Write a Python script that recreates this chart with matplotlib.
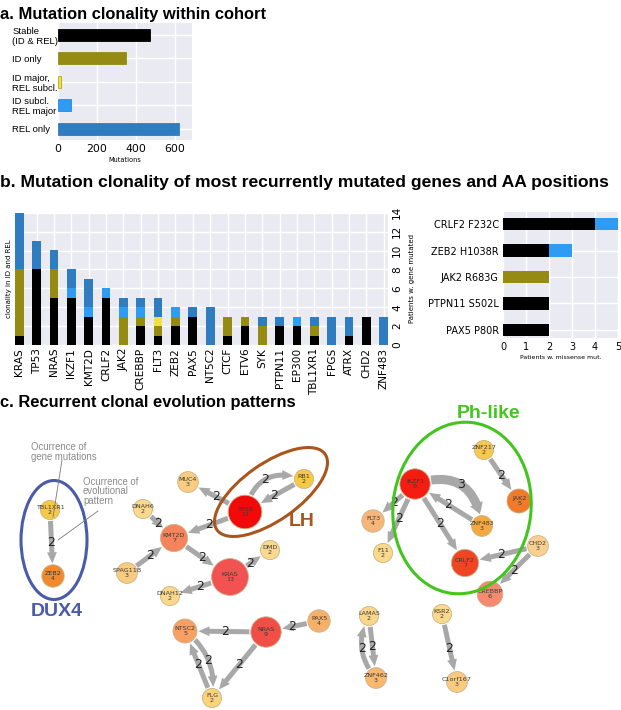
import numpy as np
import matplotlib
matplotlib.use("Agg")
import matplotlib.pyplot as plt
from matplotlib.patches import Ellipse, Circle, FancyArrowPatch

# ---------------- data ----------------
# panel a
a_categories = ["Stable\n(ID & REL)", "ID only", "ID major,\nREL subcl.", "ID subcl.\nREL major", "REL only"]
a_values = [472, 348, 18, 66, 622]

# panel b (left) stacked counts per gene
b_genes = ["KRAS", "TP53", "NRAS", "IKZF1", "KMT2D", "CRLF2", "JAK2", "CREBBP", "FLT3", "ZEB2",
           "PAX5", "NT5C2", "CTCF", "ETV6", "SYK", "PTPN11", "EP300", "TBL1XR1", "FPGS", "ATRX",
           "CHD2", "ZNF483"]
b_stable = [1, 8, 5, 5, 3, 5, 0, 2, 1, 2, 3, 0, 1, 2, 0, 2, 2, 1, 0, 1, 3, 0]
b_id_only = [7, 0, 3, 0, 0, 0, 3, 1, 1, 1, 0, 0, 2, 1, 2, 0, 0, 1, 0, 0, 0, 0]
b_idmaj_relsub = [0, 0, 0, 0, 0, 0, 0, 0, 1, 0, 0, 0, 0, 0, 0, 0, 0, 0, 0, 0, 0, 0]
b_idsub_relmaj = [0, 0, 0, 1, 1, 1, 1, 1, 0, 1, 0, 0, 0, 0, 0, 0, 1, 0, 0, 0, 0, 0]
b_rel_only = [6, 3, 2, 2, 3, 0, 1, 1, 2, 0, 1, 4, 0, 0, 1, 1, 0, 1, 3, 2, 0, 3]

# panel b (right) AA positions
aa_labels = ["CRLF2 F232C", "ZEB2 H1038R", "JAK2 R683G", "PTPN11 S502L", "PAX5 P80R"]
aa_stable = [4, 2, 0, 2, 2]
aa_id_only = [0, 0, 2, 0, 0]
aa_idsub_relmaj = [1, 1, 0, 0, 0]

# panel c network
node_names = ["TBL1XR1", "ZEB2", "DNAH6", "MUC4", "TP53", "RB1", "KMT2D", "KRAS", "DMD", "SPAG11B",
              "DNAH12", "NT5C2", "NRAS", "FLG", "PAX5", "LAMA5", "ZNF462", "KSR2", "C1orf167",
              "IKZF1", "FLT3", "F11", "ZNF217", "JAK2", "ZNF483", "CRLF2", "CHD2", "CREBBP"]
node_labels = ["TBL1XR1", "ZEB2", "DNAH6", "MUC4", "TP53", "RB1", "KMT2D", "KRAS", "DMD", "SPAG11B",
               "DNAH12", "NTSC2", "NRAS", "FLG", "PAX5", "LAMA5", "ZNF462", "KSR2", "C1orf167",
               "IKZF1", "FLT3", "F11", "ZNF217", "JAK2", "ZNF483", "CRLF2", "CHD2", "CREBBP"]
node_counts = [2, 4, 2, 3, 11, 2, 7, 13, 2, 3, 2, 5, 9, 2, 4, 2, 3, 2, 3, 9, 4, 2, 2, 5, 3, 7, 3, 6]
node_colors = ["#F6C843", "#F08A2E", "#FAD88C", "#F9CC80", "#F20A0A", "#F6C843", "#F5845C", "#F25252",
               "#FAD98E", "#F9CB80", "#FAD88A", "#F7A064", "#F24E48", "#F9D37A", "#F7B068", "#FAD68A",
               "#F7B870", "#FAD98A", "#F9CB80", "#F51C12", "#F7B57A", "#FAD98A", "#F6C850", "#F07A2A",
               "#F5A840", "#F04522", "#FAD090", "#F58A70"]
# layout of the graph (pixel space of the picture)
node_layout = {
    "TBL1XR1": (50, 510), "ZEB2": (53, 576), "DNAH6": (143, 509), "MUC4": (188, 482),
    "TP53": (245, 512), "RB1": (304, 479), "KMT2D": (174, 538), "KRAS": (230, 577),
    "DMD": (270, 550), "SPAG11B": (127, 573), "DNAH12": (170, 596), "NT5C2": (185, 631),
    "NRAS": (266, 632), "FLG": (212, 698), "PAX5": (319, 621), "LAMA5": (369, 616),
    "ZNF462": (376, 678), "KSR2": (442, 614), "C1orf167": (457, 682), "IKZF1": (415, 484),
    "FLT3": (373, 521), "F11": (383, 553), "ZNF217": (484, 450), "JAK2": (519, 501),
    "ZNF483": (482, 526), "CRLF2": (465, 563), "CHD2": (538, 546), "CREBBP": (490, 594),
}
edge_src = ["TBL1XR1", "DNAH6", "TP53", "TP53", "RB1", "TP53", "KMT2D", "SPAG11B", "KRAS", "KRAS",
            "NRAS", "PAX5", "NRAS", "NT5C2", "FLG", "LAMA5", "ZNF462", "KSR2", "IKZF1", "ZNF483",
            "IKZF1", "ZNF217", "IKZF1", "IKZF1", "CHD2", "CHD2"]
edge_dst = ["ZEB2", "KMT2D", "MUC4", "RB1", "TP53", "KMT2D", "KRAS", "KMT2D", "DMD", "DNAH12",
            "NT5C2", "NRAS", "FLG", "FLG", "NT5C2", "ZNF462", "LAMA5", "C1orf167", "ZNF483", "IKZF1",
            "CRLF2", "JAK2", "FLT3", "F11", "CRLF2", "CREBBP"]
edge_weight = [2, 2, 2, 2, 2, 2, 2, 2, 2, 2, 2, 2, 2, 2, 2, 2, 2, 2, 3, 2, 2, 2, 2, 2, 2, 2]
edge_curve = [0, 0, 0, -0.55, 0, 0, 0, 0, 0, 0, 0, 0, 0, -0.3, 0, 0, -0.35, 0, -0.6, 0, 0, 0, 0, 0, 0, 0]

# ---------------- style ----------------
BG = "#EAEAF2"
C_STABLE = "#000000"
C_IDONLY = "#958A12"
C_IDMAJ = "#F0E040"
C_IDSUB = "#2E9BF5"
C_REL = "#2F7DC0"
SANS = ["Liberation Sans", "DejaVu Sans"]

W, H = 621, 710
fig = plt.figure(figsize=(W / 100, H / 100), dpi=100)


def frac(x0, y0, x1, y1):
    return [x0 / W, 1 - y1 / H, (x1 - x0) / W, (y1 - y0) / H]


def style_ax(ax):
    ax.set_facecolor(BG)
    for s in ax.spines.values():
        s.set_visible(False)
    ax.grid(True, color="white", lw=1.0)
    ax.set_axisbelow(True)
    ax.tick_params(length=0)


# ---------------- network axes (panel c) ----------------
axn = fig.add_axes([0, 0, 1, 1])
axn.set_xlim(0, W)
axn.set_ylim(H, 0)
axn.axis("off")

radius = {n: 8 + 0.8 * c for n, c in zip(node_names, node_counts)}

for s, d, w, rad in zip(edge_src, edge_dst, edge_weight, edge_curve):
    p0 = np.array(node_layout[s], float)
    p1 = np.array(node_layout[d], float)
    tw = 3.6 if w == 2 else 6.5
    style = f"Simple,tail_width={tw},head_width={tw + 3.5},head_length=8"
    arr = FancyArrowPatch(p0, p1, arrowstyle=style, connectionstyle=f"arc3,rad={rad}",
                          shrinkA=radius[s] * 0.72 + 1, shrinkB=radius[d] * 0.72 + 1,
                          color="#A8A8A8", lw=0, zorder=1)
    axn.add_patch(arr)
    # label position at the middle of the (possibly curved) edge, in y-up space
    q0 = np.array([p0[0], H - p0[1]])
    q1 = np.array([p1[0], H - p1[1]])
    mid = (q0 + q1) / 2
    dx, dy = q1 - q0
    c = np.array([mid[0] + rad * dy, mid[1] - rad * dx])
    m = 0.25 * q0 + 0.5 * c + 0.25 * q1
    axn.text(m[0], H - m[1], str(w), fontsize=9, color="#222222", ha="center", va="center", zorder=3)

for n, lab, cnt, col in zip(node_names, node_labels, node_counts, node_colors):
    x, y = node_layout[n]
    axn.add_patch(Circle((x, y), radius[n], facecolor=col, edgecolor="#C9B48A", lw=0.6, zorder=2))
    axn.text(x, y, f"{lab}\n{cnt}", fontsize=4.6, color="#3A3A3A", ha="center", va="center",
             linespacing=1.1, zorder=4)

# group ellipses
axn.add_patch(Ellipse((54, 540), 66, 119, angle=0, fill=False, ec="#4A5BA8", lw=2.2, zorder=5))
axn.add_patch(Ellipse((271, 492), 132, 57, angle=-35, fill=False, ec="#A8561E", lw=2.2, zorder=5))
axn.add_patch(Ellipse((462, 508), 172, 138, angle=96.5, fill=False, ec="#44C41E", lw=2.2, zorder=5))
axn.text(57, 612, "DUX4", fontsize=14, fontweight="bold", color="#4A5BA8", ha="center", va="center",
         family=SANS)
axn.text(302, 522, "LH", fontsize=14, fontweight="bold", color="#A8561E", ha="center", va="center",
         family=SANS)
axn.text(489, 414, "Ph-like", fontsize=14, fontweight="bold", color="#44C41E", ha="center", va="center",
         family=SANS)

# annotations
axn.text(31, 442, "Ocurrence of\ngene mutations", fontsize=6.9, color="#8A8A8A", ha="left", va="top",
         linespacing=0.95, family=SANS)
axn.plot([62, 53], [460, 517], color="#777777", lw=0.6, zorder=6)
axn.text(83, 477, "Ocurrence of\nevolutional\npattern", fontsize=6.9, color="#8A8A8A", ha="left",
         va="top", linespacing=0.92, family=SANS)
axn.plot([98, 58], [511, 540], color="#777777", lw=0.6, zorder=6)

# ---------------- titles ----------------
fig.text(0, 1 - 15 / H, "a. Mutation clonality within cohort", fontsize=11.9, fontweight="bold",
         family=SANS, va="center", ha="left")
fig.text(0, 1 - 183 / H, "b. Mutation clonality of most recurrently mutated genes and AA positions",
         fontsize=12.6, fontweight="bold", family=SANS, va="center", ha="left")
fig.text(0, 1 - 403 / H, "c. Recurrent clonal evolution patterns", fontsize=11.9, fontweight="bold",
         family=SANS, va="center", ha="left")

# ---------------- panel a ----------------
axa = fig.add_axes(frac(58, 22.5, 192, 140))
style_ax(axa)
a_cols = [C_STABLE, C_IDONLY, C_IDMAJ, C_IDSUB, C_REL]
a_edges = ["#000000", "#958A12", "#B8A820", "#2A8AD8", "#2F7DC0"]
axa.barh(range(len(a_categories)), a_values, height=0.5, color=a_cols, edgecolor=a_edges, lw=0.6)
axa.set_ylim(4.48, -0.52)
axa.set_xlim(0, 690)
axa.set_xticks([0, 200, 400, 600])
axa.set_yticks(range(len(a_categories)))
axa.set_yticklabels(a_categories, family=SANS, fontsize=6.8, ha="left", linespacing=1.15)
axa.tick_params(axis="y", pad=33)
axa.tick_params(axis="x", labelsize=7.8, pad=3)
axa.set_xlabel("Mutations", fontsize=4.8, labelpad=2)

# ---------------- panel b left ----------------
axb = fig.add_axes(frac(15, 212.7, 388, 345))
style_ax(axb)
x = np.arange(len(b_genes))
bottom = np.zeros(len(b_genes))
for vals, col in [(b_stable, C_STABLE), (b_id_only, C_IDONLY), (b_idmaj_relsub, C_IDMAJ),
                  (b_idsub_relmaj, C_IDSUB), (b_rel_only, C_REL)]:
    v = np.array(vals, float)
    axb.bar(x, v, bottom=bottom, width=0.5, color=col, lw=0)
    bottom += v
axb.set_xlim(-0.25, len(b_genes) - 0.75)
axb.set_ylim(0, 14)
axb.set_xticks(x)
axb.set_xticklabels(b_genes, rotation=90, fontsize=7.6)
axb.set_yticks(range(0, 15, 2))
axb.tick_params(axis="y", labelleft=False, labelright=True, labelrotation=90, labelsize=7.6, pad=3)
axb.tick_params(axis="x", pad=2)
for lab in axb.get_yticklabels():
    lab.set_va("center")
axb.set_ylabel("clonality in ID and REL", fontsize=5, labelpad=2)
axb.text(1.065, 0.5, "Patients w. gene mutated", transform=axb.transAxes, rotation=90,
         fontsize=5, ha="center", va="center")

# ---------------- panel b right ----------------
axr = fig.add_axes(frac(503, 211.7, 618, 337.7))
style_ax(axr)
y = np.arange(len(aa_labels))
left = np.zeros(len(aa_labels))
for vals, col in [(aa_stable, C_STABLE), (aa_id_only, C_IDONLY), (aa_idsub_relmaj, C_IDSUB)]:
    v = np.array(vals, float)
    axr.barh(y, v, left=left, height=0.47, color=col, lw=0)
    left += v
axr.set_ylim(4.3, -0.47)
axr.set_xlim(0, 5)
axr.set_xticks(range(6))
axr.set_yticks(y)
axr.set_yticklabels(aa_labels, fontsize=7)
axr.tick_params(axis="x", labelsize=7, pad=3)
axr.tick_params(axis="y", pad=3)
axr.set_xlabel("Patients w. missense mut.", fontsize=4.5, labelpad=2)

fig.savefig("out.png", dpi=100)
